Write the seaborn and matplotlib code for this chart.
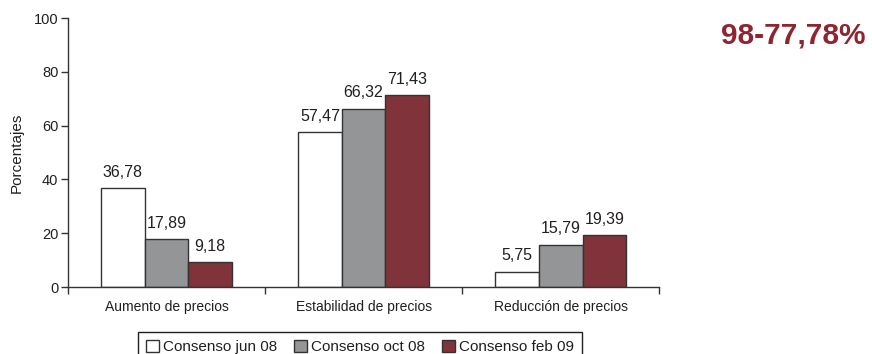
import pandas as pd
import seaborn as sns
import matplotlib.pyplot as plt

# Data
categorias = ["Aumento de precios", "Estabilidad de precios", "Reducción de precios"]
consensos = ["Consenso jun 08", "Consenso oct 08", "Consenso feb 09"]
jun_08 = [36.78, 57.47, 5.75]
oct_08 = [17.89, 66.32, 15.79]
feb_09 = [9.18, 71.43, 19.39]

df = pd.DataFrame({
    "categoria": categorias * 3,
    "consenso": [c for c in consensos for _ in categorias],
    "valor": jun_08 + oct_08 + feb_09,
})

colores = {"Consenso jun 08": "#ffffff", "Consenso oct 08": "#939598", "Consenso feb 09": "#8d2630"}

sns.set_style("white")
plt.rcParams["font.family"] = ["Liberation Sans", "DejaVu Sans"]
txt = "#231f20"

fig = plt.figure(figsize=(8.72, 3.54), dpi=100)
ax = fig.add_axes([0.078, 0.189, 0.678, 0.760])

sns.barplot(data=df, x="categoria", y="valor", hue="consenso", palette=colores,
            width=0.665, edgecolor="#333333", linewidth=1.0, ax=ax)

# Value labels with decimal comma
for cont in ax.containers:
    ax.bar_label(cont, labels=[f"{v:.2f}".replace(".", ",") for v in cont.datavalues],
                 padding=6, fontsize=11.5, color=txt)

ax.set_ylim(0, 100)
ax.set_xlim(-0.5, 2.5)
ax.set_yticks([0, 20, 40, 60, 80, 100])
ax.set_xlabel("")
ax.set_ylabel("Porcentajes", fontsize=11, color=txt, labelpad=7)

sns.despine(ax=ax)
for s in ["left", "bottom"]:
    ax.spines[s].set_color("#333333")
    ax.spines[s].set_linewidth(1.0)

ax.tick_params(axis="y", direction="out", length=5, width=1, color="#333333",
               labelsize=10.5, labelcolor=txt, pad=2, left=True)
ax.tick_params(axis="x", which="major", length=0, labelsize=10, labelcolor=txt, pad=9)
ax.set_xticks([-0.5, 0.5, 1.5, 2.5], minor=True)
ax.tick_params(axis="x", which="minor", direction="out", length=5, width=1,
               color="#333333", bottom=True)

# Legend at the bottom, partly cut by the figure edge
leg = ax.get_legend()
handles = leg.legend_handles
labels = [t.get_text() for t in leg.get_texts()]
leg.remove()
lg = fig.legend(handles, labels, loc="upper center", bbox_to_anchor=(0.413, 0.063),
                ncol=3, fontsize=11, frameon=True, fancybox=False, framealpha=1,
                edgecolor="#231f20", handlelength=0.85, handleheight=0.85,
                handletextpad=0.25, columnspacing=1.1, borderpad=0.55,
                borderaxespad=0)
lg.get_frame().set_linewidth(1.0)
for t in lg.get_texts():
    t.set_color(txt)

fig.text(0.993, 0.9, "98-77,78%", ha="right", va="center", fontsize=21.5,
         fontweight="bold", color="#8d2630")

fig.savefig("out.png", dpi=100)
